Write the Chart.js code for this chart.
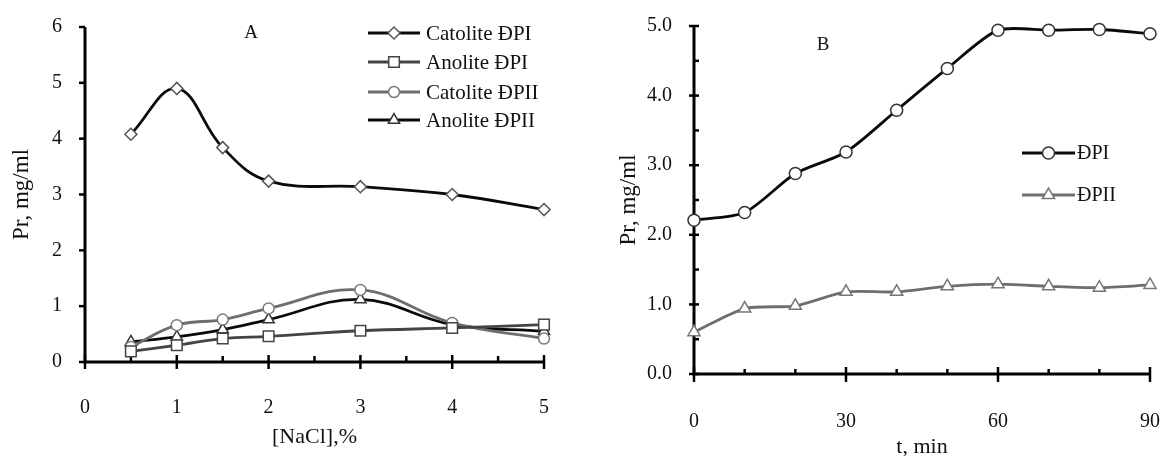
<!DOCTYPE html>
<html>
<head>
<meta charset="utf-8">
<script src="https://cdn.jsdelivr.net/npm/chart.js@4.4.0/dist/chart.umd.min.js"></script>
<style>
    html, body { margin: 0; padding: 0; background: #fff; overflow: hidden; }
    #chartA { position: absolute; left: 0; top: 0; }
    #chartB { position: absolute; left: 580px; top: 0; }
</style>
</head>
<body>
<canvas id="chartA" width="600" height="456"></canvas>
<canvas id="chartB" width="640" height="456"></canvas>
<script>
// Panel A - protein vs NaCl concentration
const naclLevels = [0.5, 1, 1.5, 2, 3, 4, 5];
const catoliteDPI = [4.08, 4.9, 3.84, 3.24, 3.14, 3.0, 2.73];
const anoliteDPI = [0.19, 0.3, 0.42, 0.46, 0.56, 0.61, 0.67];
const catoliteDPII = [0.27, 0.66, 0.76, 0.96, 1.29, 0.7, 0.42];
const anoliteDPII = [0.36, 0.45, 0.58, 0.76, 1.12, 0.67, 0.55];
const naclTicks = [0, 1, 2, 3, 4, 5];
const naclMinorTicks = [0.5, 1.5, 2.5, 3.5, 4.5];
const protTicksA = [0, 1, 2, 3, 4, 5, 6];

// Panel B - protein vs time
const timeMin = [0, 10, 20, 30, 40, 50, 60, 70, 80, 90];
const dpiTime = [2.21, 2.32, 2.88, 3.19, 3.79, 4.39, 4.94, 4.94, 4.95, 4.89];
const dpiiTime = [0.6, 0.94, 0.98, 1.18, 1.18, 1.26, 1.29, 1.26, 1.24, 1.28];
const timeTicks = [0, 30, 60, 90];
const timeMinorTicks = [10, 20, 40, 50, 70, 80];
const protTicksB = [0, 1, 2, 3, 4, 5];
const protMinorTicksB = [0.5, 1.5, 2.5, 3.5, 4.5];

const serif = "'Liberation Serif', 'Times New Roman', serif";
Chart.defaults.font.family = serif;
Chart.defaults.color = '#111';

function toPoints(xs, ys) {
    return xs.map((x, i) => ({ x: x, y: ys[i] }));
}

// axis lines with major / minor tick marks, drawn through the scales
const axisMarks = {
    id: 'axisMarks',
    beforeDatasetsDraw(chart, args, opts) {
        const ctx = chart.ctx;
        const area = chart.chartArea;
        const xs = chart.scales.x;
        const ys = chart.scales.y;
        ctx.save();
        ctx.strokeStyle = '#000';
        ctx.lineCap = 'butt';
        ctx.lineWidth = 2.5;
        opts.xMajor.forEach(v => {
            const px = xs.getPixelForValue(v);
            ctx.beginPath();
            ctx.moveTo(px, area.bottom - opts.xMajorIn);
            ctx.lineTo(px, area.bottom + opts.xMajorOut);
            ctx.stroke();
        });
        opts.xMinor.forEach(v => {
            const px = xs.getPixelForValue(v);
            ctx.beginPath();
            ctx.moveTo(px, area.bottom - opts.xMinorIn);
            ctx.lineTo(px, area.bottom);
            ctx.stroke();
        });
        opts.yMajor.forEach(v => {
            const py = ys.getPixelForValue(v);
            ctx.beginPath();
            ctx.moveTo(area.left - opts.yMajorOut, py);
            ctx.lineTo(area.left + opts.yMajorIn, py);
            ctx.stroke();
        });
        opts.yMinor.forEach(v => {
            const py = ys.getPixelForValue(v);
            ctx.beginPath();
            ctx.moveTo(area.left, py);
            ctx.lineTo(area.left + opts.yMinorIn, py);
            ctx.stroke();
        });
        ctx.lineWidth = 3;
        ctx.beginPath();
        ctx.moveTo(area.left, area.top);
        ctx.lineTo(area.left, area.bottom);
        ctx.lineTo(area.right, area.bottom);
        ctx.stroke();
        ctx.restore();
    }
};

// line + marker legend and panel letter
const panelLegend = {
    id: 'panelLegend',
    afterDraw(chart, args, opts) {
        const ctx = chart.ctx;
        ctx.save();
        chart.data.datasets.forEach((ds, i) => {
            const y = opts.rows[i];
            ctx.strokeStyle = ds.borderColor;
            ctx.lineWidth = ds.borderWidth;
            ctx.beginPath();
            ctx.moveTo(opts.lineStart, y);
            ctx.lineTo(opts.lineEnd, y);
            ctx.stroke();
            ctx.fillStyle = ds.pointBackgroundColor;
            ctx.strokeStyle = ds.pointBorderColor;
            ctx.lineWidth = ds.pointBorderWidth;
            Chart.helpers.drawPoint(ctx, {
                pointStyle: ds.pointStyle,
                radius: ds.pointRadius,
                borderWidth: ds.pointBorderWidth,
                rotation: 0
            }, (opts.lineStart + opts.lineEnd) / 2, y);
            ctx.fillStyle = '#111';
            ctx.font = opts.fontSize + 'px ' + serif;
            ctx.textAlign = 'left';
            ctx.textBaseline = 'middle';
            ctx.fillText(ds.label, opts.textX, y + 1);
        });
        ctx.font = opts.letterSize + 'px ' + serif;
        ctx.textAlign = 'center';
        ctx.fillStyle = '#111';
        ctx.fillText(opts.letter, opts.letterX, opts.letterY);
        ctx.restore();
    }
};

function series(label, xs, ys, color, markerColor, style, radius) {
    return {
        label: label,
        data: toPoints(xs, ys),
        borderColor: color,
        borderWidth: 2.8,
        pointStyle: style,
        pointRadius: radius,
        pointBackgroundColor: '#fff',
        pointBorderColor: markerColor,
        pointBorderWidth: 1.5,
        clip: false
    };
}

function linearAxis(tickValues, fmt, pad, extra) {
    return Object.assign({
        type: 'linear',
        min: tickValues[0],
        max: tickValues[tickValues.length - 1],
        grid: { display: false },
        border: { display: false },
        afterBuildTicks: scale => {
            scale.ticks = tickValues.map(v => ({ value: v }));
        },
        ticks: {
            font: { size: 20 },
            color: '#111',
            padding: pad,
            callback: fmt
        }
    }, extra);
}

new Chart(document.getElementById('chartA'), {
    type: 'line',
    data: {
        datasets: [
            series('Catolite ĐPI', naclLevels, catoliteDPI, '#0a0a0a', '#555', 'rectRot', 6),
            series('Anolite ĐPI', naclLevels, anoliteDPI, '#444', '#444', 'rect', 7.5),
            series('Catolite ĐPII', naclLevels, catoliteDPII, '#6e6e6e', '#7a7a7a', 'circle', 5.5),
            series('Anolite ĐPII', naclLevels, anoliteDPII, '#0a0a0a', '#333', 'triangle', 6.5)
        ]
    },
    options: {
        responsive: false,
        animation: false,
        layout: { padding: { left: 0, top: 24, right: 56, bottom: 0 } },
        elements: { line: { tension: 0.4 } },
        scales: {
            x: linearAxis(naclTicks, v => String(v), 26, {
                afterFit: s => { s.height = 94; },
                title: { display: true, text: '[NaCl],%', font: { size: 22, lineHeight: 1 }, color: '#111', padding: { top: 0, bottom: 8 } }
            }),
            y: linearAxis(protTicksA, v => String(v), 15, {
                afterFit: s => { s.width = 85; },
                title: { display: true, text: 'Pr, mg/ml', font: { size: 23, lineHeight: 1 }, color: '#111', padding: { top: 10, bottom: 0 } }
            })
        },
        plugins: {
            legend: { display: false },
            tooltip: { enabled: false },
            axisMarks: {
                xMajor: naclTicks, xMinor: naclMinorTicks, yMajor: protTicksA, yMinor: [],
                xMajorIn: 7, xMajorOut: 7, xMinorIn: 6, yMajorOut: 6, yMajorIn: 0, yMinorIn: 0
            },
            panelLegend: {
                rows: [33, 62, 92, 120], lineStart: 368, lineEnd: 420, textX: 426, fontSize: 21,
                letter: 'A', letterX: 251, letterY: 33, letterSize: 19
            }
        }
    },
    plugins: [axisMarks, panelLegend]
});

new Chart(document.getElementById('chartB'), {
    type: 'line',
    data: {
        datasets: [
            series('ĐPI', timeMin, dpiTime, '#0a0a0a', '#333', 'circle', 6),
            series('ĐPII', timeMin, dpiiTime, '#6e6e6e', '#777', 'triangle', 7)
        ]
    },
    options: {
        responsive: false,
        animation: false,
        layout: { padding: { left: 0, top: 25, right: 70, bottom: 0 } },
        elements: { line: { tension: 0.25 } },
        scales: {
            x: linearAxis(timeTicks, v => String(v), 28, {
                afterFit: s => { s.height = 82; },
                title: { display: true, text: 't, min', font: { size: 22, lineHeight: 0.8 }, color: '#111', padding: { top: 0, bottom: 0 } }
            }),
            y: linearAxis(protTicksB, v => v.toFixed(1), 14, {
                afterFit: s => { s.width = 114; },
                title: { display: true, text: 'Pr, mg/ml', font: { size: 23, lineHeight: 1 }, color: '#111', padding: { top: 37, bottom: 0 } }
            })
        },
        plugins: {
            legend: { display: false },
            tooltip: { enabled: false },
            axisMarks: {
                xMajor: timeTicks, xMinor: timeMinorTicks, yMajor: protTicksB, yMinor: protMinorTicksB,
                xMajorIn: 7, xMajorOut: 8, xMinorIn: 5, yMajorOut: 5, yMajorIn: 5, yMinorIn: 5
            },
            panelLegend: {
                rows: [153, 195], lineStart: 442, lineEnd: 495, textX: 497, fontSize: 20,
                letter: 'B', letterX: 243, letterY: 45, letterSize: 19
            }
        }
    },
    plugins: [axisMarks, panelLegend]
});
</script>
</body>
</html>
